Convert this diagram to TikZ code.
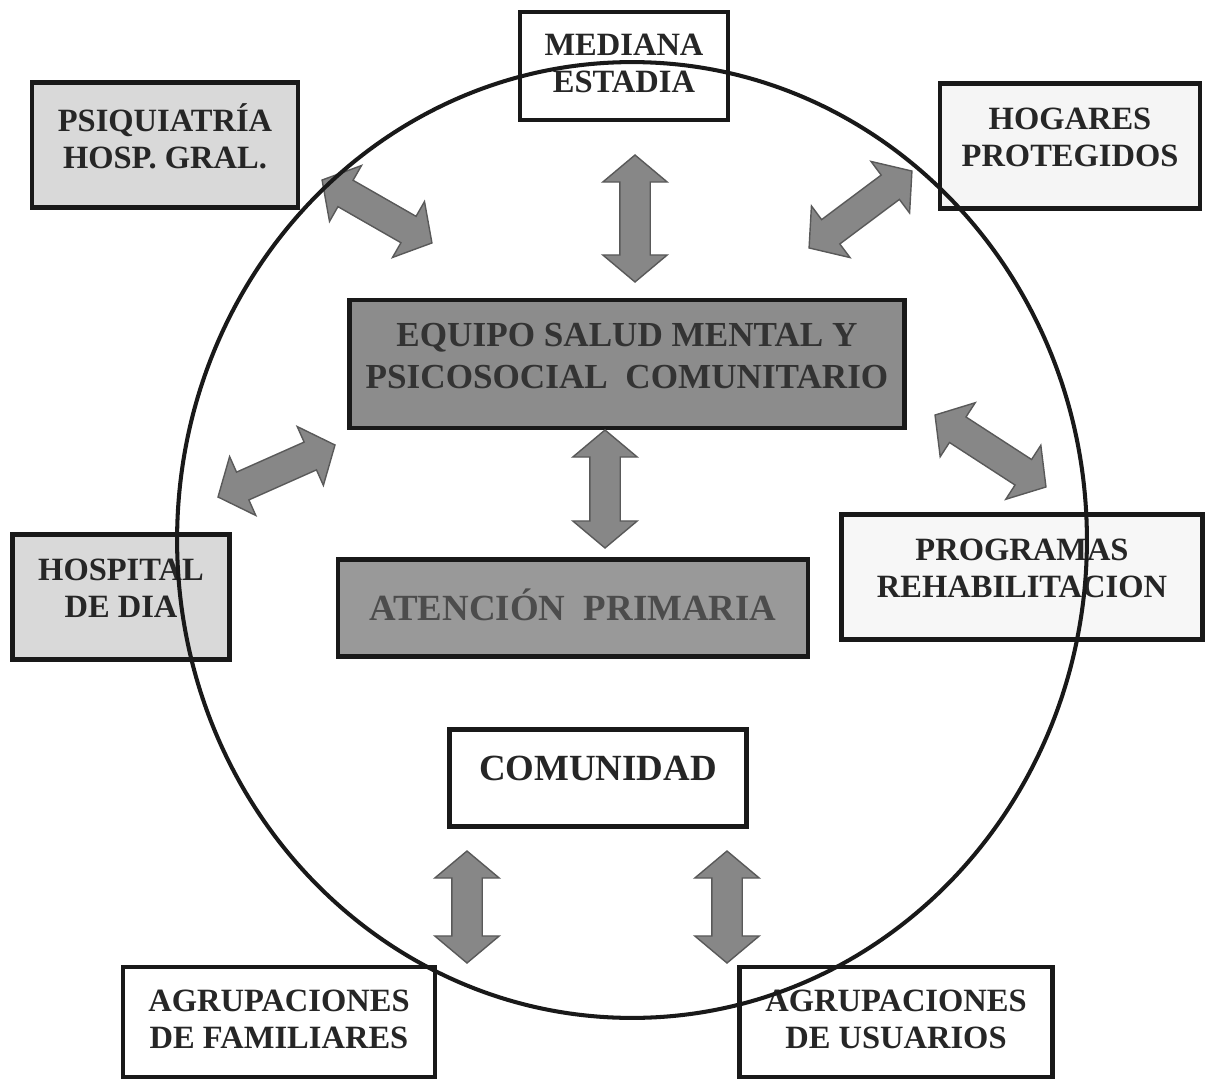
\documentclass[tikz,border=0pt]{standalone}
\usepackage{fontspec}
\setmainfont{Liberation Serif}
\usepackage{tikz}
\usetikzlibrary{calc,shapes.arrows}
\usepackage{xcolor}

\begin{document}
\begin{tikzpicture}[x=0.02cm, y=-0.02cm,
  box/.style={draw=black!90, line width=2.4pt, align=center, inner sep=0pt,
    font=\fontsize{18.5}{21}\selectfont\bfseries, text=black!85, text depth=0.35cm},
  bigbox/.style={box, text depth=0pt},
  blockarrow/.style={double arrow, draw=black!65, fill=black!47, line width=0.8pt,
    inner xsep=0pt, inner ysep=0.29cm, double arrow head extend=0.34cm, double arrow tip angle=100},
  ring/.style={draw=black!90, line width=2.3pt}]
\useasboundingbox (0,0) rectangle (1206,1081);
% pixel grid of the scan: x=0..1206, y=0..1081 (downwards)
\newcommand{\biarrow}[2]{\path let \p1=($(#2)-(#1)$), \n1={veclen(\x1,\y1)} in (#1) -- (#2) node[midway, sloped, blockarrow, minimum height=\n1] {};}
% outer services
\node[box, fill=white, minimum width=4.16cm, minimum height=2.16cm, text depth=0.1cm] (mediana) at (624,66) {MEDIANA\\ESTADIA};
\node[box, fill=black!15, minimum width=5.32cm, minimum height=2.5cm] (psiq) at (165,145) {PSIQUIATRÍA\\HOSP. GRAL.};
\node[box, fill=black!4, minimum width=5.2cm, minimum height=2.5cm] (hogares) at (1070,146) {HOGARES\\PROTEGIDOS};
\node[box, fill=black!15, minimum width=4.34cm, minimum height=2.5cm] (hospital) at (121,597) {HOSPITAL\\DE DIA};
\node[box, fill=black!3, minimum width=7.22cm, minimum height=2.5cm] (programas) at (1022,577) {PROGRAMAS\\REHABILITACION};
% core
\node[bigbox, fill=black!45, text=black!80, minimum width=11.1cm, minimum height=2.56cm, text depth=0.32cm,
  font=\fontsize{20}{24}\selectfont\bfseries] (equipo) at (627,364) {EQUIPO SALUD MENTAL Y\\PSICOSOCIAL~ COMUNITARIO};
\node[bigbox, fill=black!40, text=black!70, minimum width=9.4cm, minimum height=1.94cm, text depth=0.15cm,
  font=\fontsize{21}{24}\selectfont\bfseries] (atencion) at (573,608) {ATENCIÓN~ PRIMARIA};
% community
\node[box, fill=white, minimum width=5.94cm, minimum height=1.94cm, font=\fontsize{21}{24}\selectfont\bfseries, text depth=0.4cm] (comunidad) at (598,778) {COMUNIDAD};
\node[box, fill=white, minimum width=6.24cm, minimum height=2.2cm, text depth=0.1cm] (familiares) at (279,1022) {AGRUPACIONES\\DE FAMILIARES};
\node[box, fill=white, minimum width=6.26cm, minimum height=2.2cm, text depth=0.1cm] (usuarios) at (896,1022) {AGRUPACIONES\\DE USUARIOS};
% arrow ends
\coordinate (psq1) at (322,180); \coordinate (psq2) at (432,243);
\coordinate (med1) at (635,155); \coordinate (med2) at (635,282);
\coordinate (hog1) at (912,171); \coordinate (hog2) at (809,248);
\coordinate (hos1) at (218,497); \coordinate (hos2) at (335,445);
\coordinate (eqp1) at (605,430); \coordinate (eqp2) at (605,548);
\coordinate (pro1) at (935,415); \coordinate (pro2) at (1046,487);
\coordinate (fam1) at (467,851); \coordinate (fam2) at (467,963);
\coordinate (usu1) at (727,851); \coordinate (usu2) at (727,963);
\foreach \a/\b in {psq1/psq2, med1/med2, hog1/hog2, hos1/hos2, eqp1/eqp2, pro1/pro2, fam1/fam2, usu1/usu2}
  {\biarrow{\a}{\b}}
% network circle
\draw[ring] (632,540) ellipse [x radius=9.1cm, y radius=9.56cm];
\end{tikzpicture}
\end{document}
